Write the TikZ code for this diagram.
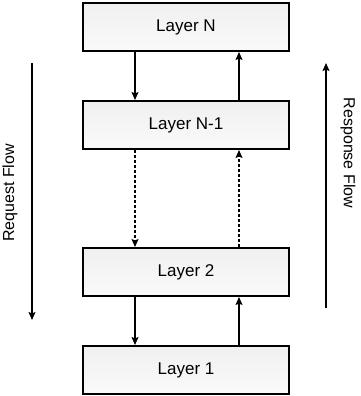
\documentclass[tikz,border=0pt]{standalone}
\usepackage{fontspec}
\setmainfont{Liberation Sans}
\usetikzlibrary{arrows.meta, positioning}

\begin{document}
\begin{tikzpicture}[x=1pt, y=1pt,
            layer/.style={rectangle, draw=black, line width=2pt,
                          top color=gray!12, bottom color=gray!4,
                          minimum width=206pt, minimum height=48pt,
                          font=\fontsize{17}{20}\selectfont},
            arr/.style={-{Stealth[length=8pt, width=7pt, inset=1.5pt]}, line width=1.2pt},
            dsh/.style={arr, dash pattern=on 3pt off 2pt},
            flow/.style={font=\fontsize{16}{19}\selectfont},
            node distance=48pt]
          \useasboundingbox (0,0) rectangle (360,-396);
          \node[layer] (lN) at (186,-27) {Layer N};
          \node[layer, below=of lN] (lN1) {Layer N-1};
          \node[layer, below=97pt of lN1] (l2) {Layer 2};
          \node[layer, below=of l2] (l1) {Layer 1};
          \draw[arr] ([xshift=-51pt]lN.south) -- ([xshift=-51pt]lN1.north);
          \draw[arr] ([xshift=53pt]lN1.north) -- ([xshift=53pt]lN.south);
          \draw[dsh] ([xshift=-51pt]lN1.south) -- ([xshift=-51pt]l2.north);
          \draw[dsh] ([xshift=53pt]l2.north) -- ([xshift=53pt]lN1.south);
          \draw[arr] ([xshift=-51pt]l2.south) -- ([xshift=-51pt]l1.north);
          \draw[arr] ([xshift=53pt]l1.north) -- ([xshift=53pt]l2.south);
          % side flows
          \coordinate (reqA) at (32,-63);
          \coordinate (reqB) at (32,-320);
          \coordinate (resA) at (326,-308);
          \coordinate (resB) at (326,-63);
          \draw[arr] (reqA) -- (reqB);
          \draw[arr] (resA) -- (resB);
          \node[flow, rotate=90] (req) at (10,-193) {Request Flow};
          \node[flow, rotate=-90] (res) at (348,-153) {Response Flow};
        \end{tikzpicture}
\end{document}
